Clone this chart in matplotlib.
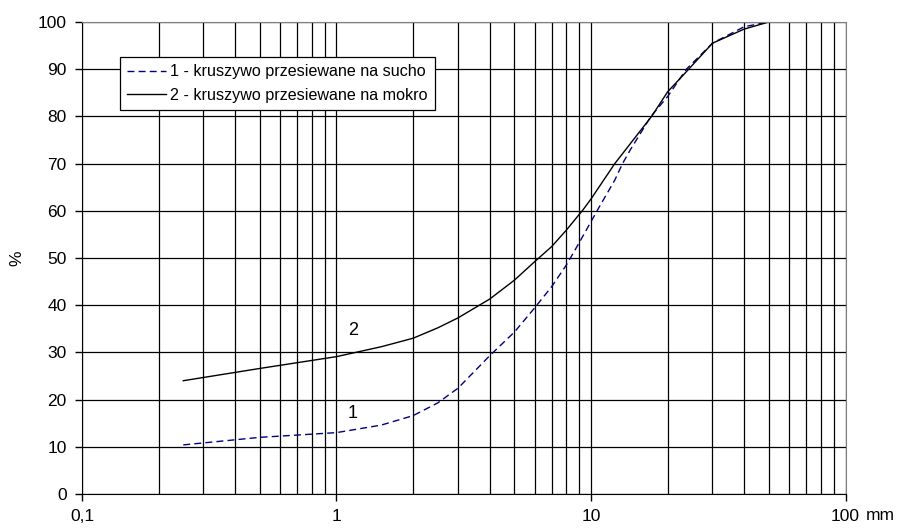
import matplotlib
matplotlib.use("Agg")
from matplotlib import pyplot as plt
from matplotlib.ticker import FixedLocator, NullFormatter

plt.rcParams['font.family'] = ['Liberation Sans', 'DejaVu Sans']

# sieve size [mm] and passing [%]
size_dry = [0.25, 0.5, 1, 1.5, 2, 2.5, 3, 4, 5, 6, 7, 8, 9, 10, 10.8, 12.4, 13.3, 14.3, 17.2, 20, 23.7, 30, 40, 50]
pass_dry = [10.4, 12.0, 13.0, 14.6, 16.6, 19.3, 22.4, 29.3, 34.3, 39.4, 43.9, 48.5, 53.3, 57.7, 60.9, 66.5, 70.0, 73.0, 80.0, 84.2, 90.0, 95.5, 99.0, 100]

size_wet = [0.25, 0.5, 1, 1.5, 2, 2.5, 3, 4, 5, 6, 7, 8, 9.3, 10, 12.4, 17.3, 20, 24.2, 30, 40, 50]
pass_wet = [24.0, 26.6, 29.1, 31.2, 33.0, 35.2, 37.3, 41.3, 45.3, 49.2, 52.4, 55.9, 60.2, 62.5, 70.0, 80.0, 85.2, 90.0, 95.5, 98.5, 100]

labels = ['1 - kruszywo przesiewane na sucho', '2 - kruszywo przesiewane na mokro']

fig = plt.figure(figsize=(9.04, 5.31), dpi=100)
ax = fig.add_axes([0.0907, 0.0697, 0.8446, 0.8889])

ax.plot(size_dry, pass_dry, color='#000080', lw=1.0, ls=(0, (5, 3)), label=labels[0])
ax.plot(size_wet, pass_wet, color='black', lw=1.0, label=labels[1])

ax.set_xscale('log')
ax.set_xlim(0.1, 100)
ax.set_ylim(0, 100)

ax.xaxis.set_major_locator(FixedLocator([0.1, 1, 10, 100]))
ax.set_xticklabels(['0,1', '1', '10', '100'])
minors = [m * d for d in (0.1, 1, 10) for m in range(2, 10)]
ax.xaxis.set_minor_locator(FixedLocator(minors))
ax.xaxis.set_minor_formatter(NullFormatter())
ax.set_yticks(range(0, 101, 10))

ax.grid(True, which='both', axis='x', color='black', lw=0.9)
ax.grid(True, which='major', axis='y', color='black', lw=0.9)
ax.tick_params(axis='x', which='minor', length=0)
ax.tick_params(axis='both', which='major', direction='out', length=5, width=1,
               labelsize=12.5, colors='black', pad=6)

for side in ('top', 'right'):
    ax.spines[side].set_color('#808080')
for side in ('left', 'bottom'):
    ax.spines[side].set_color('black')

# curve numbers
ax.text(1.16, 17.1, '1', fontsize=13, ha='center', va='center')
ax.text(1.16, 34.6, '2', fontsize=13, ha='center', va='center')

fig.text(0.019, 0.514, '%', rotation=90, fontsize=12.5, ha='center', va='center')
fig.text(0.974, 0.030, 'mm', fontsize=12.5, ha='center', va='center')

leg = ax.legend(loc='upper left', bbox_to_anchor=(0.0498, 0.926), fontsize=11.6,
                frameon=True, fancybox=False, edgecolor='black', framealpha=1,
                handlelength=2.4, handletextpad=0.25, borderpad=0.45,
                labelspacing=0.55, borderaxespad=0)
leg.get_frame().set_linewidth(0.9)

fig.savefig('out.png', dpi=100)
